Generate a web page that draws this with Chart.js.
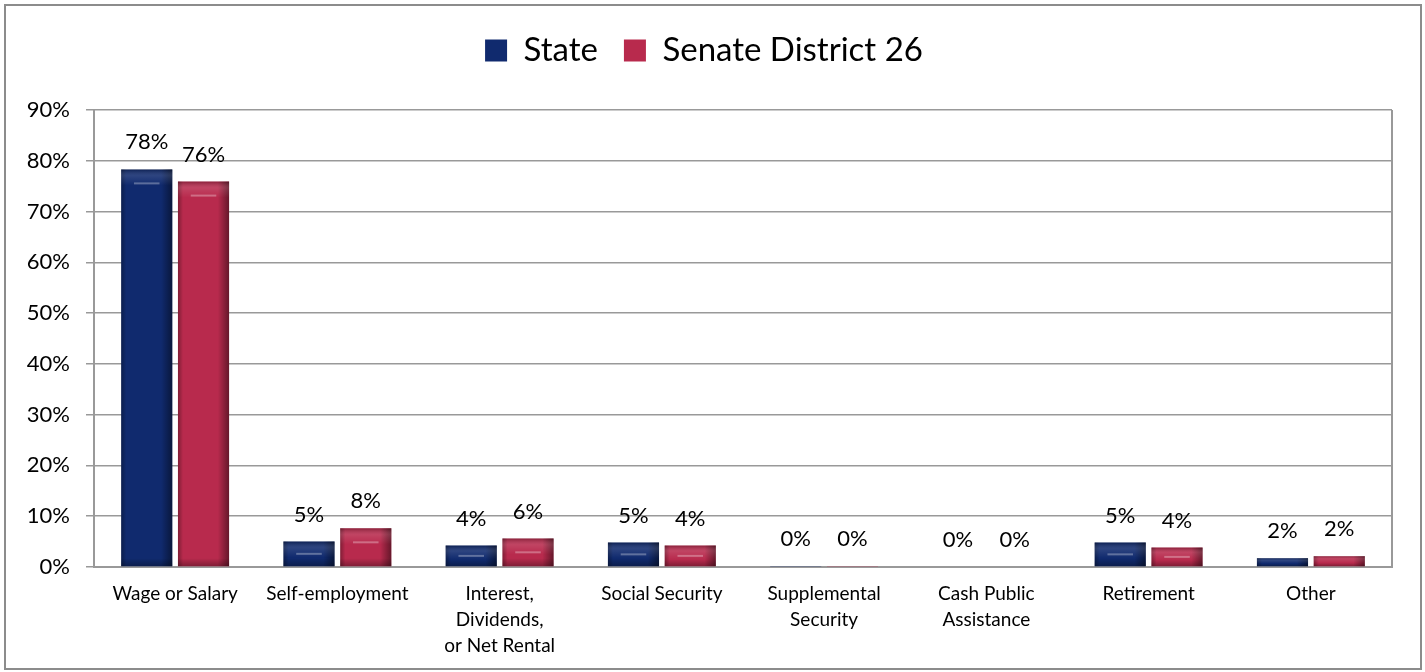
<!DOCTYPE html>
<html>
<head>
<meta charset="utf-8">
<script src="https://cdn.jsdelivr.net/npm/chart.js@4.4.1/dist/chart.umd.min.js"></script>
<style>
  body { margin: 0; background: #fff; }
  #moldura { position: absolute; left: 4px; top: 4px; width: 1414px; height: 662px; border: 2px solid #8c8c8c; }
  #grafico { display: block; }
</style>
</head>
<body>
<div id="moldura"><canvas id="grafico" width="1414" height="662"></canvas></div>
<script>
const categorias = ['Wage or Salary', 'Self-employment', ['Interest,', 'Dividends,', 'or Net Rental'], 'Social Security', ['Supplemental', 'Security'], ['Cash Public', 'Assistance'], 'Retirement', 'Other'];
const estado = [78.3, 5.0, 4.2, 4.8, 0.2, 0.0, 4.8, 1.7];
const distrito = [75.9, 7.6, 5.6, 4.2, 0.2, 0.0, 3.8, 2.1];
const ticksY = [0, 10, 20, 30, 40, 50, 60, 70, 80, 90];

const fonte = 'Lato, "Liberation Sans", sans-serif';

// bevel + rotulos em cima das barras
const efeitoBarras = {
    id: 'efeitoBarras',
    afterDatasetsDraw(chart) {
        const ctx = chart.ctx;
        chart.data.datasets.forEach((ds, i) => {
            chart.getDatasetMeta(i).data.forEach((bar, j) => {
                const esq = bar.x - bar.width / 2, dir = bar.x + bar.width / 2;
                const topo = bar.y, base = bar.base, h = base - topo;
                if (h > 1) {
                    ctx.save();
                    let g = ctx.createLinearGradient(esq, 0, dir, 0);
                    g.addColorStop(0, 'rgba(0,0,0,0.3)');
                    g.addColorStop(0.1, 'rgba(0,0,0,0)');
                    g.addColorStop(0.78, 'rgba(0,0,0,0)');
                    g.addColorStop(1, 'rgba(0,0,0,0.45)');
                    ctx.fillStyle = g;
                    ctx.fillRect(esq, topo, bar.width, h);
                    const bev = Math.min(8, h / 3);
                    let gt = ctx.createLinearGradient(0, topo, 0, topo + bev * 2);
                    gt.addColorStop(0, 'rgba(0,0,0,0.25)');
                    gt.addColorStop(0.4, 'rgba(255,255,255,0.12)');
                    gt.addColorStop(1, 'rgba(255,255,255,0)');
                    ctx.fillStyle = gt;
                    ctx.fillRect(esq, topo, bar.width, bev * 2);
                    let gb = ctx.createLinearGradient(0, base - bev, 0, base);
                    gb.addColorStop(0, 'rgba(0,0,0,0)');
                    gb.addColorStop(1, 'rgba(0,0,0,0.3)');
                    ctx.fillStyle = gb;
                    ctx.fillRect(esq, base - bev, bar.width, bev);
                    if (h > 12) {
                        ctx.strokeStyle = 'rgba(255,255,255,0.3)';
                        ctx.lineWidth = 2;
                        ctx.beginPath();
                        ctx.moveTo(bar.x - bar.width * 0.25, topo + Math.min(h / 2, 14));
                        ctx.lineTo(bar.x + bar.width * 0.25, topo + Math.min(h / 2, 14));
                        ctx.stroke();
                    }
                    ctx.restore();
                }
                ctx.save();
                ctx.fillStyle = '#000';
                ctx.font = '22px ' + fonte;
                ctx.textAlign = 'center';
                ctx.textBaseline = 'middle';
                ctx.fillText(Math.round(ds.data[j]) + '%', bar.x, topo - 27);
                ctx.restore();
            });
        });
    }
};

const margemLegenda = {
    id: 'margemLegenda',
    beforeInit(chart) {
        const fitOriginal = chart.legend.fit;
        chart.legend.fit = function () {
            fitOriginal.bind(this)();
            this.height += 33;
        };
    }
};

new Chart(document.getElementById('grafico'), {
    type: 'bar',
    data: {
        labels: categorias,
        datasets: [
            {
                label: 'State',
                data: estado,
                backgroundColor: '#102a6e',
                borderWidth: 0,
                categoryPercentage: 0.7,
                barPercentage: 0.9
            },
            {
                label: 'Senate District 26',
                data: distrito,
                backgroundColor: '#b82a4d',
                borderWidth: 0,
                categoryPercentage: 0.7,
                barPercentage: 0.9
            }
        ]
    },
    options: {
        responsive: false,
        animation: false,
        devicePixelRatio: 1,
        layout: { padding: { left: 10, right: 28, top: 2, bottom: 3 } },
        plugins: {
            legend: {
                position: 'top',
                labels: {
                    font: { family: fonte, size: 33 },
                    color: '#000',
                    boxWidth: 22,
                    boxHeight: 22,
                    padding: 26
                }
            },
            tooltip: { enabled: false }
        },
        scales: {
            x: {
                grid: { display: false },
                border: { color: '#999', width: 2 },
                ticks: {
                    font: { family: fonte, size: 19, lineHeight: 1.37 },
                    color: '#000',
                    maxRotation: 0,
                    autoSkip: false,
                    padding: 6
                }
            },
            y: {
                min: 0,
                max: 90,
                afterBuildTicks(scale) { scale.ticks = ticksY.map(v => ({ value: v })); },
                afterFit(scale) { scale.width = 78; },
                grid: { color: '#999', lineWidth: 1.5, drawTicks: true, tickLength: 8 },
                border: { color: '#999', width: 2 },
                ticks: {
                    font: { family: fonte, size: 22 },
                    color: '#000',
                    padding: 16,
                    callback: v => v + '%'
                }
            }
        }
    },
    plugins: [efeitoBarras, margemLegenda,
        {
            id: 'bordaDireita',
            afterDraw(chart) {
                const a = chart.chartArea, ctx = chart.ctx;
                ctx.save();
                ctx.strokeStyle = '#999';
                ctx.lineWidth = 2;
                ctx.beginPath();
                ctx.moveTo(a.right, a.top);
                ctx.lineTo(a.right, a.bottom);
                ctx.stroke();
                ctx.restore();
            }
        }]
});
</script>
</body>
</html>
